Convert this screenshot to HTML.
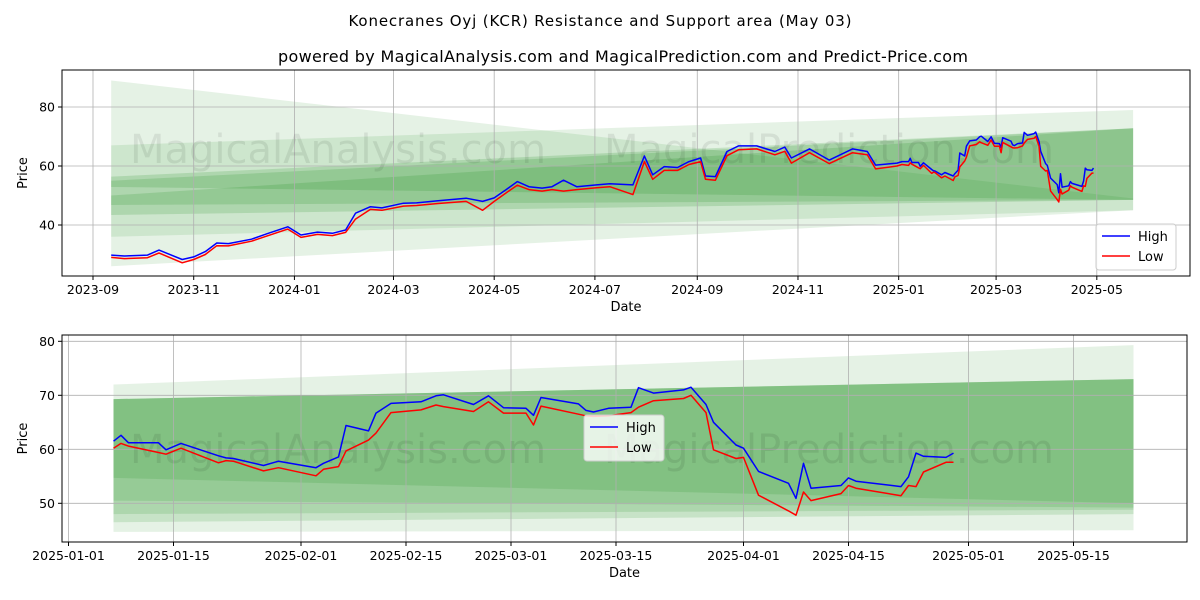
<!DOCTYPE html>
<html><head><meta charset="utf-8"><style>
html,body{margin:0;padding:0;background:#fff;width:1200px;height:600px;overflow:hidden}
svg text{font-family:"DejaVu Sans","Liberation Sans",sans-serif}
</style></head><body>
<svg id="c" width="1200" height="600" viewBox="0 0 1200 600" xmlns="http://www.w3.org/2000/svg">
<text x="600" y="26" font-size="15" text-anchor="middle" textLength="503">Konecranes Oyj (KCR) Resistance and Support area (May 03)</text>
<text x="623" y="62" font-size="16" text-anchor="middle" textLength="690">powered by MagicalAnalysis.com and MagicalPrediction.com and Predict-Price.com</text>
</svg>
<script>
const dates=["2023-09-12","2023-09-20","2023-10-04","2023-10-11","2023-10-25","2023-11-01","2023-11-08","2023-11-15","2023-11-22","2023-12-06","2023-12-15","2023-12-28","2024-01-05","2024-01-15","2024-01-24","2024-02-01","2024-02-07","2024-02-16","2024-02-23","2024-03-07","2024-03-15","2024-03-28","2024-04-14","2024-04-24","2024-05-01","2024-05-08","2024-05-15","2024-05-22","2024-05-30","2024-06-05","2024-06-12","2024-06-20","2024-07-02","2024-07-10","2024-07-24","2024-07-31","2024-08-05","2024-08-12","2024-08-20","2024-08-27","2024-09-03","2024-09-06","2024-09-12","2024-09-19","2024-09-26","2024-10-07","2024-10-18","2024-10-24","2024-10-28","2024-11-08","2024-11-20","2024-12-04","2024-12-13","2024-12-18","2024-12-31","2025-01-03",
"2025-01-07","2025-01-08","2025-01-09","2025-01-13","2025-01-14","2025-01-16","2025-01-21","2025-01-22","2025-01-23","2025-01-27","2025-01-29","2025-02-03","2025-02-04","2025-02-06","2025-02-07","2025-02-10","2025-02-11","2025-02-13","2025-02-17","2025-02-19","2025-02-20","2025-02-24","2025-02-26","2025-02-28","2025-03-03","2025-03-04","2025-03-05","2025-03-10","2025-03-11","2025-03-12","2025-03-14","2025-03-17","2025-03-18","2025-03-20","2025-03-24","2025-03-25","2025-03-27","2025-03-28","2025-03-31","2025-04-01","2025-04-03","2025-04-07","2025-04-08","2025-04-09","2025-04-10","2025-04-14","2025-04-15","2025-04-16","2025-04-22","2025-04-23","2025-04-24","2025-04-25","2025-04-28","2025-04-29"];
const high=[29.8,29.5,29.8,31.5,28.3,29.2,31.0,33.9,33.7,35.2,37.0,39.4,36.6,37.6,37.2,38.3,44.0,46.2,45.8,47.4,47.5,48.2,49.1,48.0,49.2,51.9,54.7,53.0,52.5,53.0,55.2,53.0,53.6,54.0,53.6,63.4,57.0,59.8,59.5,61.5,62.7,56.6,56.4,64.9,66.8,66.8,64.9,66.4,62.7,65.8,62.0,65.8,64.9,60.3,61.0,61.5,
61.5,62.6,61.2,61.2,59.9,61.1,58.8,58.4,58.3,57.0,57.8,56.6,57.4,58.6,64.4,63.4,66.7,68.5,68.8,69.9,70.1,68.3,69.9,67.7,67.6,66.3,69.6,68.4,67.2,66.9,67.6,67.8,71.4,70.4,71.0,71.5,68.3,65.0,60.8,60.2,55.9,53.7,50.9,57.4,52.8,53.3,54.7,54.1,53.1,54.9,59.3,58.7,58.5,59.3];
const low=[29.0,28.6,28.9,30.5,27.2,28.3,30.0,33.0,32.9,34.5,36.2,38.6,35.8,36.8,36.4,37.5,42.0,45.3,45.0,46.4,46.6,47.3,48.0,45.0,48.0,50.8,53.5,52.0,51.5,52.0,51.5,52.0,52.6,53.0,50.3,61.5,55.5,58.5,58.5,60.5,61.5,55.5,55.2,63.5,65.5,65.8,63.8,65.0,61.0,64.5,60.8,64.5,63.8,59.0,60.0,60.5,
60.2,61.1,60.6,59.4,59.1,60.2,57.5,57.9,57.8,56.0,56.6,55.1,56.3,56.8,59.7,61.7,63.0,66.8,67.3,68.2,67.9,67.0,68.8,66.7,66.7,64.5,68.0,66.5,66.2,66.1,66.2,66.8,67.8,69.0,69.4,70.0,66.8,59.9,58.3,58.5,51.5,48.6,47.8,52.1,50.5,51.8,53.3,52.8,51.4,53.3,53.1,55.8,57.6,57.6];
// bands: [leftTop,leftBottom,rightTop,rightBottom]
const topBandLeftTop=[89,67,56.4,55,50];
const topBandLeftBot=[26,36,52.9,43.4,46.8];
const topBandRightTop=[49,79,72.8,72.8,72.8];
const topBandRightBot=[45,45,48.5,48.5,48.5];
const botBandLeftTop=[72,69.3,69.3,69.3,69.3];
const botBandLeftBot=[44.7,46.5,48,50.5,54.7];
const botBandRightTop=[79.3,73,73,73,73];
const botBandRightBot=[45,48,48.8,49.2,50];
const topYTicks=[40,60,80];
const botYTicks=[50,60,70,80];
const topXTicks=["2023-09","2023-11","2024-01","2024-03","2024-05","2024-07","2024-09","2024-11","2025-01","2025-03","2025-05"];
const botXTicks=["2025-01-01","2025-01-15","2025-02-01","2025-02-15","2025-03-01","2025-03-15","2025-04-01","2025-04-15","2025-05-01","2025-05-15"];

const NS="http://www.w3.org/2000/svg";
const svg=document.getElementById('c');
function mk(tag,attrs,parent){const e=document.createElementNS(NS,tag);for(const k in attrs)e.setAttribute(k,attrs[k]);(parent||svg).appendChild(e);return e;}
function dnum(s){if(s.length===7)s+="-01";const p=s.split('-');return Date.UTC(+p[0],+p[1]-1,+p[2])/86400000;}

function panel(cfg){
  const {L,R,T,B,x,y,yt,xt,bandsL,bandsLB,bandsR,bandsRB,bandStart,bandEnd,alphas,filt,name,legend,wm}=cfg;
  const g=mk('g',{});
  
  
  const cid='clip'+name;
  const cp=mk('clipPath',{id:cid},g);mk('rect',{x:L,y:T,width:R-L,height:B-T},cp);
  const plot=mk('g',{'clip-path':'url(#'+cid+')'},g);
  for(let i=0;i<bandsL.length;i++){
    const x0=x(bandStart),x1=x(bandEnd);
    const p=mk('polygon',{points:`${x0},${y(bandsL[i])} ${x1},${y(bandsR[i])} ${x1},${y(bandsRB[i])} ${x0},${y(bandsLB[i])}`,fill:'rgb(0,128,0)','fill-opacity':alphas[i]},plot);
    
    
  }
  xt.forEach(t=>{mk('line',{x1:x(t),x2:x(t),y1:T,y2:B,stroke:'#b0b0b0','stroke-width':0.8},plot);});
  yt.forEach(t=>{mk('line',{x1:L,x2:R,y1:y(t),y2:y(t),stroke:'#b0b0b0','stroke-width':0.8},plot);});
  wm.forEach(w=>{const t=mk('text',{x:w[0],y:w[1],'font-size':40,fill:'#000','fill-opacity':0.08},plot);t.textContent=w[2];
    
    });
  const idx=dates.map((d,i)=>i).filter(i=>filt(dates[i]));
  [[high,'#0000ff','high-line'],[low,'#ff0000','low-line']].forEach(s=>{
    const pts=idx.map(i=>x(dates[i]).toFixed(1)+','+y(s[0][i]).toFixed(1)).join(' ');
    const pl=mk('polyline',{points:pts,fill:'none',stroke:s[1],'stroke-width':1.5,'stroke-linejoin':'round'},plot);
    
    
  });
  mk('rect',{x:L,y:T,width:R-L,height:B-T,fill:'none',stroke:'#000','stroke-width':1},g);
  yt.forEach(t=>{mk('line',{x1:L-4,x2:L,y1:y(t),y2:y(t),stroke:'#000'},g);
    const tx=mk('text',{x:L-7,y:y(t)+4.5,'font-size':12.5,'text-anchor':'end'},g);tx.textContent=t;
    
    });
  xt.forEach(t=>{mk('line',{x1:x(t),x2:x(t),y1:B,y2:B+4,stroke:'#000'},g);
    const tx=mk('text',{x:x(t),y:B+18,'font-size':12.5,'text-anchor':'middle'},g);tx.textContent=t;
    
    });
  const xl=mk('text',{x:(L+R)/2,y:B+35,'font-size':13,'text-anchor':'middle'},g);xl.textContent='Date';
  
  
  const yl=mk('text',{x:0,y:0,'font-size':13,'text-anchor':'middle',transform:`translate(27,${(T+B)/2}) rotate(-90)`},g);yl.textContent='Price';
  
  
  const lg=mk('g',{},g);
  
  
  mk('rect',{x:legend[0],y:legend[1],width:80,height:46,rx:3,fill:'#fff','fill-opacity':0.8,stroke:'#ccc'},lg);
  [['High','#0000ff'],['Low','#ff0000']].forEach((e,i)=>{
    const yy=legend[1]+12+i*20;
    mk('line',{x1:legend[0]+6,x2:legend[0]+34,y1:yy,y2:yy,stroke:e[1],'stroke-width':1.5},lg);
    const t=mk('text',{x:legend[0]+42,y:yy+5,'font-size':13},lg);t.textContent=e[0];
    
    
  });
}
const t0=dnum("2023-09-01");
panel({name:'top-panel',L:62,R:1190,T:70,B:276,
  x:d=>93+(dnum(d)-t0)*1.651, y:v=>166-(v-60)*2.95,
  yt:topYTicks,xt:topXTicks,bandsL:topBandLeftTop,bandsLB:topBandLeftBot,bandsR:topBandRightTop,bandsRB:topBandRightBot,
  bandStart:"2023-09-12",bandEnd:"2025-05-23",alphas:[0.1,0.1,0.15,0.15,0.15],filt:d=>true,legend:[1096,224],
  wm:[[130,163,'MagicalAnalysis.com'],[604,163,'MagicalPrediction.com'],[130,313,'MagicalAnalysis.com'],[604,313,'MagicalPrediction.com']]});
const b0=dnum("2025-01-01");
panel({name:'bottom-panel',L:62,R:1187,T:335,B:542,
  x:d=>68.5+(dnum(d)-b0)*7.5, y:v=>449.3-(v-60)*5.4,
  yt:botYTicks,xt:botXTicks,bandsL:botBandLeftTop,bandsLB:botBandLeftBot,bandsR:botBandRightTop,bandsRB:botBandRightBot,
  bandStart:"2025-01-07",bandEnd:"2025-05-23",alphas:[0.1,0.13,0.13,0.13,0.13],filt:d=>dnum(d)>=dnum("2025-01-06"),legend:[584,415],
  wm:[[130,463,'MagicalAnalysis.com'],[604,463,'MagicalPrediction.com']]});
</script>
</body></html>
